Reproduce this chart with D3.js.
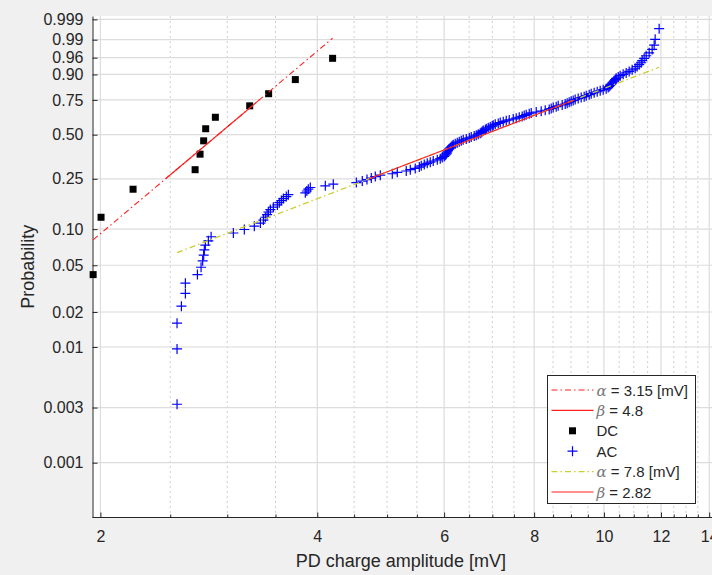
<!DOCTYPE html>
<html>
<head>
<meta charset="utf-8">
<script src="https://cdn.jsdelivr.net/npm/d3@7"></script>
<style>
  body { margin: 0; background: #f0f0f0; }
  svg { display: block; font-family: "Liberation Sans", Arial, sans-serif; }
  .tick text { fill: #262626; }
</style>
</head>
<body>
<svg id="chart" width="712" height="575"></svg>
<script>
// PD charge amplitudes [mV]
var dcAmplitude = [1.954, 2.004, 2.220, 2.707, 2.750, 2.782, 2.800, 2.888, 3.223, 3.424, 3.729, 4.201];
var acAmplitude = [
  2.555, 2.555, 2.555, 2.591, 2.624, 2.624, 2.727, 2.759, 2.773, 2.782,
  2.788, 2.797, 2.824, 2.849, 3.059, 3.168, 3.271, 3.335, 3.367, 3.388,
  3.407, 3.421, 3.443, 3.476, 3.521, 3.543, 3.566, 3.589, 3.623, 3.647,
  3.850, 3.869, 3.887, 3.912, 4.104, 4.210, 4.532, 4.619, 4.689, 4.754,
  4.815, 4.893, 5.084, 5.166, 5.316, 5.385, 5.471, 5.542, 5.577, 5.631,
  5.685, 5.740, 5.795, 5.870, 5.926, 5.964, 6.002, 6.022, 6.041, 6.051,
  6.060, 6.070, 6.080, 6.099, 6.119, 6.138, 6.158, 6.178, 6.217, 6.257,
  6.297, 6.338, 6.378, 6.440, 6.502, 6.543, 6.606, 6.649, 6.691, 6.734,
  6.756, 6.777, 6.799, 6.843, 6.865, 6.909, 6.953, 6.997, 7.020, 7.065,
  7.133, 7.179, 7.248, 7.318, 7.388, 7.483, 7.555, 7.628, 7.701, 7.751,
  7.800, 7.876, 7.926, 8.054, 8.183, 8.289, 8.395, 8.449, 8.503, 8.585,
  8.640, 8.751, 8.835, 8.892, 8.949, 9.006, 9.064, 9.122, 9.210, 9.299,
  9.388, 9.449, 9.540, 9.601, 9.693, 9.787, 9.881, 9.976, 10.072, 10.137,
  10.169, 10.202, 10.234, 10.267, 10.300, 10.333, 10.366, 10.399, 10.466, 10.533,
  10.634, 10.737, 10.840, 10.944, 11.050, 11.121, 11.192, 11.264, 11.300, 11.372,
  11.445, 11.555, 11.666, 11.741, 11.779, 11.930
];
var probTicks = [0.001, 0.003, 0.01, 0.02, 0.05, 0.10, 0.25, 0.50, 0.75, 0.90, 0.96, 0.99, 0.999];
var probLabels = ["0.001", "0.003", "0.01", "0.02", "0.05", "0.10", "0.25", "0.50", "0.75", "0.90", "0.96", "0.99", "0.999"];
var xTicks = [2, 4, 6, 8, 10, 12, 14];
var xMinorTicks = [2.5, 3, 3.5, 4.5, 5, 5.5, 6.5, 7, 7.5, 8.5, 9, 9.5, 10.5, 11, 11.5, 12.5, 13, 13.5];
var legendLabels = ["α = 3.15 [mV]", "β = 4.8", "DC", "AC", "α = 7.8 [mV]", "β = 2.82"];

var plotL = 92.5, plotR = 709.2, plotT = 16, plotB = 517.5;
var svg = d3.select("#chart");

// weibull probability paper: y = log(-log(1-p))
function weib(p) { return Math.log(-Math.log(1 - p)); }

var x = d3.scaleLog().domain([1.95, 14]).range([plotL, plotR]);
var y = d3.scaleLinear().domain([-8, 2]).range([plotB, plotT]);

// plotting positions (i-0.5)/n and quartiles, the way wblplot does it
function positions(values) {
  var s = values.slice().sort(d3.ascending);
  return s.map(function(v, i) { return {x: v, p: (i + 0.5) / s.length}; });
}
function prc(values, p) {
  var s = values.slice().sort(d3.ascending);
  var pos = s.length * p + 0.5, lo = Math.floor(pos), f = pos - lo;
  return s[lo - 1] + (s[lo] - s[lo - 1]) * f;
}
function refLine(values) {
  var q1 = prc(values, 0.25), q3 = prc(values, 0.75);
  var b = (weib(0.75) - weib(0.25)) / (Math.log(q3) - Math.log(q1));
  var fy = function(v) { return weib(0.25) + b * (Math.log(v) - Math.log(q1)); };
  return {
    full: [d3.min(values), d3.max(values)].map(function(v) { return [v, fy(v)]; }),
    mid: [q1, q3].map(function(v) { return [v, fy(v)]; })
  };
}

// axes area runs a little past the window edge
svg.append("rect").attr("x", plotL).attr("y", plotT)
  .attr("width", 712 - plotL).attr("height", plotB - plotT).attr("fill", "#fff");

// grid
var grid = svg.append("g");
grid.selectAll(".xminor").data(xMinorTicks).enter().append("line")
  .attr("x1", function(d) { return x(d); }).attr("x2", function(d) { return x(d); })
  .attr("y1", plotT).attr("y2", plotB)
  .attr("stroke", "#cfcfcf").attr("stroke-dasharray", "2,3");
grid.selectAll(".xmajor").data(xTicks).enter().append("line")
  .attr("x1", function(d) { return x(d); }).attr("x2", function(d) { return x(d); })
  .attr("y1", plotT).attr("y2", plotB)
  .attr("stroke", "#dcdcdc").attr("stroke-width", 1.2);
grid.selectAll(".ymajor").data(probTicks).enter().append("line")
  .attr("x1", plotL).attr("x2", 712)
  .attr("y1", function(d) { return y(weib(d)); }).attr("y2", function(d) { return y(weib(d)); })
  .attr("stroke", "#dcdcdc").attr("stroke-width", 1.2);

// axes
var yAxis = d3.axisLeft(y)
  .tickValues(probTicks.map(weib))
  .tickFormat(function(d, i) { return probLabels[i]; })
  .tickSizeInner(-5).tickSizeOuter(0).tickPadding(9);
svg.append("g").attr("transform", "translate(" + plotL + ",0)").call(yAxis);

var xAxis = d3.axisBottom(x).tickValues(xTicks).tickFormat(d3.format("d"))
  .tickSizeInner(-5).tickSizeOuter(0).tickPadding(13);
var gx = svg.append("g").attr("transform", "translate(0," + plotB + ")").call(xAxis);
gx.select(".domain").attr("d", "M" + plotL + ",0H712");
var xMinor = d3.axisBottom(x).tickValues(xMinorTicks).tickFormat("").tickSizeInner(-3).tickSizeOuter(0);
svg.append("g").attr("transform", "translate(0," + plotB + ")").call(xMinor)
  .select(".domain").remove();

svg.selectAll(".domain, .tick line").attr("stroke", "#262626");
svg.selectAll(".tick text").style("font-size", "16px");

svg.append("text").attr("x", (plotL + plotR) / 2).attr("y", 567)
  .attr("text-anchor", "middle").style("font-size", "18px").attr("fill", "#262626")
  .text("PD charge amplitude [mV]");
svg.append("text").attr("transform", "translate(34," + (plotT + plotB) / 2 + ") rotate(-90)")
  .attr("text-anchor", "middle").style("font-size", "18px").attr("fill", "#262626")
  .text("Probability");

var line = d3.line()
  .x(function(d) { return x(d[0]); })
  .y(function(d) { return y(d[1]); });

// AC data
var acPts = positions(acAmplitude);
svg.append("g").selectAll("path").data(acPts).enter().append("path")
  .attr("transform", function(d) { return "translate(" + x(d.x) + "," + y(weib(d.p)) + ")"; })
  .attr("d", "M-5,0H5M0,-5V5")
  .attr("stroke", "#0000ff").attr("stroke-width", 1.2).attr("fill", "none");

// DC data
var dcPts = positions(dcAmplitude);
svg.append("g").selectAll("rect").data(dcPts).enter().append("rect")
  .attr("x", function(d) { return x(d.x) - 3.5; })
  .attr("y", function(d) { return y(weib(d.p)) - 3.5; })
  .attr("width", 7).attr("height", 7).attr("fill", "#000");

// reference lines
var dcRef = refLine(dcAmplitude), acRef = refLine(acAmplitude);
svg.append("path").attr("d", line(dcRef.full)).attr("fill", "none")
  .attr("stroke", "#ff2020").attr("stroke-width", 1.1).attr("stroke-dasharray", "6,3,1.5,3");
svg.append("path").attr("d", line(dcRef.mid)).attr("fill", "none")
  .attr("stroke", "#ff2020").attr("stroke-width", 1.1);
svg.append("path").attr("d", line(acRef.full)).attr("fill", "none")
  .attr("stroke", "#cccc33").attr("stroke-width", 1.3).attr("stroke-dasharray", "6,3,1.5,3");
svg.append("path").attr("d", line(acRef.mid)).attr("fill", "none")
  .attr("stroke", "#ff2020").attr("stroke-width", 1.1);

// legend
var lg = svg.append("g").attr("transform", "translate(547.5,375.5)");
lg.append("rect").attr("width", 148).attr("height", 128)
  .attr("fill", "#fff").attr("stroke", "#262626");
var lineStyles = [
  {stroke: "#ff2020", dash: "6,3,1.5,3"}, {stroke: "#ff2020", dash: null}, null, null,
  {stroke: "#cccc33", dash: "6,3,1.5,3"}, {stroke: "#ff2020", dash: null}
];
legendLabels.forEach(function(label, i) {
  var cy = 14.5 + i * 20.4;
  var st = lineStyles[i];
  if (st) {
    lg.append("line").attr("x1", 4).attr("x2", 46).attr("y1", cy).attr("y2", cy)
      .attr("stroke", st.stroke).attr("stroke-width", 1.1).attr("stroke-dasharray", st.dash);
  } else if (label === "DC") {
    lg.append("rect").attr("x", 21.5).attr("y", cy - 3.5).attr("width", 7).attr("height", 7).attr("fill", "#000");
  } else {
    lg.append("path").attr("d", "M20," + cy + "h10M25," + (cy - 5) + "v10")
      .attr("stroke", "#0000ff").attr("stroke-width", 1.2).attr("fill", "none");
  }
  var t = lg.append("text").attr("x", 49).attr("y", cy + 5.5)
    .style("font-size", "15px").style("white-space", "pre").attr("fill", "#262626");
  var first = label.charAt(0);
  if (first === "α" || first === "β") {
    t.append("tspan").text(first).style("font-style", "italic")
      .style("font-family", "'DejaVu Serif', serif").attr("fill", "#777");
    t.append("tspan").text(label.slice(1));
  } else {
    t.text(label);
  }
});
</script>
</body>
</html>
